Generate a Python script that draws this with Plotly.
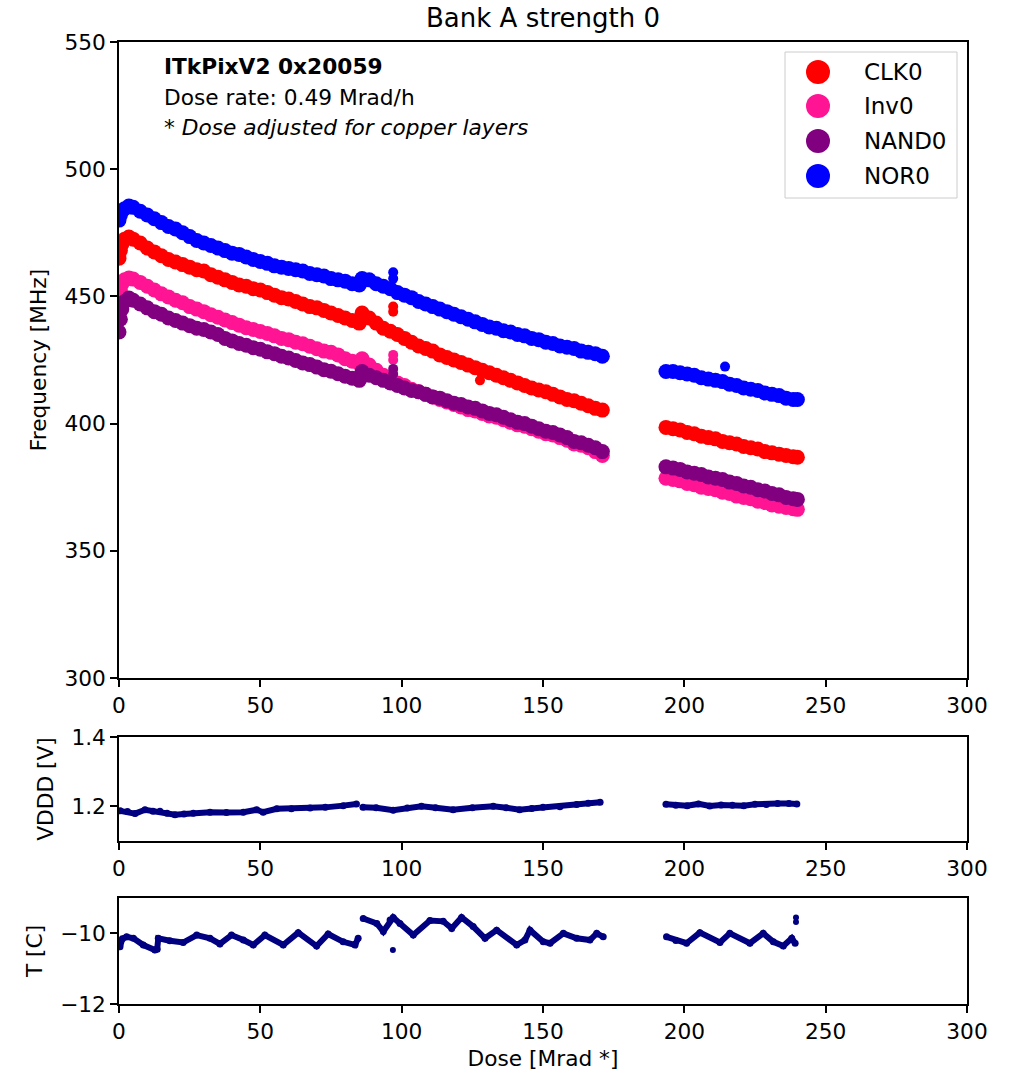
import plotly.graph_objects as go

# ---------------------------------------------------------------------------
# Ring-oscillator frequencies vs. accumulated dose (three irradiation periods)
# ---------------------------------------------------------------------------
dose_freq = [
    0, 0.5, 1, 2, 3.5, 5, 7.5, 10, 12.5, 15, 17.5, 20, 22.5, 25, 27.5, 30, 32.5, 35, 37.5,
    40, 42.5, 45, 47.5, 50, 52.5, 55, 57.5, 60, 62.5, 65, 67.5, 70, 72.5, 75, 77.5, 80, 82.5, 85,
    86, 88.5, 91, 93.5, 96, 98.5, 101, 103.5, 106, 108.5, 111, 113.5, 116, 118.5, 121, 123.5,
    126, 128.5, 131, 133.5, 136, 138.5, 141, 143.5, 146, 148.5, 151, 153.5, 156, 158.5, 161,
    163.5, 166, 168.5, 171,
    193.5, 196, 198.5, 201, 203.5, 206, 208.5, 211, 213.5, 216, 218.5, 221, 223.5, 226, 228.5,
    231, 233.5, 236, 238.5, 240,
]

freq_clk0 = [
    465, 468, 470.5, 472.5, 473.3, 472.5, 471, 469, 467.5, 466, 464.5, 463.5, 462.5, 461.5,
    460.5, 460, 458.5, 457.5, 456.5, 455.5, 454.5, 454, 453, 452.5, 451.5, 450.5, 449.5, 449,
    448, 447, 446, 445.5, 444.5, 443.5, 442.5, 441.5, 440.5, 439.5,
    443.5, 441.5, 439.5, 437.5, 436.3, 435, 433.5, 432, 430.5, 429.5, 428.5, 427, 426, 425,
    424, 423, 422, 421, 420, 419, 418, 417, 416, 415, 414, 413.2, 412.5, 411.5, 410.5, 409.5,
    409, 408, 407, 406, 405.3,
    398.5, 398, 397.5, 396.5, 396, 395, 394.5, 394, 393, 392.5, 392, 391, 390.5, 390, 389,
    388.5, 388, 387.5, 387, 386.8,
]

freq_inv0 = [
    450, 452.5, 455, 456.5, 457.2, 456.8, 455.5, 454, 452.5, 451, 449.8, 448.5, 447.5, 446,
    445, 444, 442.8, 441.8, 440.7, 439.7, 438.7, 437.7, 437, 436.2, 435.4, 434.5, 433.5, 433,
    432, 431.4, 430.4, 429.4, 428.5, 428, 427, 425.5, 424.5, 423.5,
    425.5, 423, 421, 419, 417.5, 416, 415, 413.5, 412.5, 411.5, 410.5, 409.5, 408.5, 407.5,
    406.5, 405.5, 405, 404, 403, 402.5, 401.5, 400.5, 399.5, 399, 398, 397, 396, 395.5, 394.5,
    393.5, 392, 391.5, 390.5, 389, 387.5,
    378.5, 378, 377.5, 376.5, 376, 375, 374.5, 374, 373, 372.5, 371.5, 371, 370.5, 369.5, 369,
    368, 367.5, 367, 366.5, 366.3,
]

freq_nand0 = [
    436, 441, 445, 448, 449.4, 448.5, 447, 445.5, 444, 443, 441.5, 440.5, 439.5, 438.5, 437.5,
    437, 436, 435, 433.5, 432.5, 431.5, 430.8, 429.8, 429.2, 428.2, 427.5, 426.5, 425.8, 424.8,
    423.8, 423.2, 422.2, 421.2, 420.6, 419.6, 418.6, 417.8, 417,
    420.5, 419, 418, 417, 416, 415, 414, 413, 412.5, 411.5, 410.5, 410, 409, 408, 407.5, 406.5,
    406, 405, 404, 403.5, 402.5, 401.5, 400.5, 400, 399, 398, 397, 396.5, 395.5, 394.5, 393,
    392.5, 391.5, 390.5, 389,
    383, 382.5, 382, 381, 380.5, 380, 379, 378.5, 378, 377, 376.5, 375.5, 375, 374, 373.5,
    372.5, 372, 371, 370.5, 370.2,
]

freq_nor0 = [
    480, 482, 483.5, 484.5, 485.5, 485, 483.5, 482, 480.5, 479, 477.5, 476.5, 475, 473.5, 472,
    471, 470, 469, 468, 467, 466.5, 465.5, 464.5, 463.7, 463, 462, 461.5, 461, 460.5, 460, 459,
    458.5, 458, 457, 456.5, 456, 455, 454.5,
    457, 456.5, 455, 454, 453, 451.5, 450.5, 449.5, 448, 447, 446, 445, 444, 443, 442, 441,
    440, 439, 438, 437.5, 436.5, 436, 435, 434.5, 433.5, 433, 432, 431.5, 430.5, 430, 429.5,
    428.5, 428, 427.5, 426.5,
    420.5, 420.5, 420, 419.5, 419, 418, 417.5, 417, 416.5, 415.5, 415, 414, 413.5, 413, 412,
    411.5, 411, 410, 409.5, 409.5,
]

# isolated readings away from the main bands
spike_dose_clk0 = [97, 97, 127.7]
spike_clk0 = [444, 446, 417]
spike_dose_inv0 = [97, 97]
spike_inv0 = [425, 427]
spike_dose_nand0 = [97, 97]
spike_nand0 = [419.5, 421.5]
spike_dose_nor0 = [97, 97, 214.4]
spike_nor0 = [457, 459.5, 422.4]

# ---------------------------------------------------------------------------
# Supply voltage and temperature, one list per irradiation period
# ---------------------------------------------------------------------------
vddd_dose_segments = [
    [0.4, 3, 5.7, 9.2, 12, 14.5, 17, 19.8, 23, 26.3, 32.2, 38, 44, 48.7, 51, 55.8, 61, 67.6,
     73, 79.3, 84],
    [86.3, 91, 97, 102, 107, 112, 118.2, 125, 132.4, 137, 141.7, 146, 150, 156, 161.9, 166,
     170.2],
    [193.5, 197, 201, 205, 209, 213, 217, 221, 225, 229, 233, 237, 239.8],
]
vddd_segments = [
    [1.187, 1.185, 1.179, 1.190, 1.186, 1.186, 1.180, 1.176, 1.178, 1.180, 1.183, 1.182,
     1.183, 1.190, 1.183, 1.193, 1.193, 1.195, 1.197, 1.202, 1.207],
    [1.197, 1.196, 1.189, 1.195, 1.200, 1.196, 1.190, 1.196, 1.200, 1.196, 1.190, 1.194,
     1.197, 1.199, 1.205, 1.209, 1.212],
    [1.206, 1.203, 1.202, 1.207, 1.201, 1.204, 1.203, 1.202, 1.206, 1.205, 1.208, 1.208,
     1.207],
]

temp_dose_segments = [
    [0.35, 1.2, 2.7, 5.1, 8.6, 12.7, 13.5, 13.9, 18, 22.7, 27.5, 32.2, 35.7, 39.8, 44, 47.5,
     51.6, 58.1, 63.4, 69.9, 74, 79.3, 83.5, 84.6],
    [86.4, 91.2, 93.5, 95.9, 97, 99.4, 104.1, 110, 114.7, 117.7, 121.2, 125.3, 129.5, 133.6,
     140.7, 143.6, 145.4, 150.1, 152.5, 157.2, 161.9, 166.6, 169, 171.3],
    [193.7, 197, 200.8, 205.5, 212.6, 216.1, 223.2, 227.9, 231.5, 235, 238, 239.2],
]
temp_segments = [
    [-10.38, -10.15, -10.10, -10.14, -10.33, -10.47, -10.45, -10.14, -10.21, -10.26, -10.05,
     -10.14, -10.30, -10.05, -10.19, -10.33, -10.05, -10.33, -9.98, -10.36, -10.02, -10.24,
     -10.33, -10.14],
    [-9.58, -9.72, -9.95, -9.62, -9.55, -9.72, -10.05, -9.64, -9.66, -9.86, -9.55, -9.81,
     -10.14, -9.91, -10.33, -10.19, -9.91, -10.24, -10.28, -10.0, -10.14, -10.19, -10.0,
     -10.10],
    [-10.10, -10.2, -10.28, -9.98, -10.26, -10.0, -10.28, -10.0, -10.24, -10.36, -10.14,
     -10.28],
]
temp_spike_dose = [96.9, 239.5, 239.5]
temp_spike = [-10.47, -9.55, -9.68]

series = [
    ("CLK0", "#ff0000", freq_clk0, spike_dose_clk0, spike_clk0),
    ("Inv0", "#ff1493", freq_inv0, spike_dose_inv0, spike_inv0),
    ("NAND0", "#800080", freq_nand0, spike_dose_nand0, spike_nand0),
    ("NOR0", "#0000ff", freq_nor0, spike_dose_nor0, spike_nor0),
]

NAVY = "#000080"
FONT = "DejaVu Sans"
FS = 21.7        # tick labels, axis titles, text block
FS_TITLE = 26
FS_LEGEND = 23


def join_segments(segments):
    out = []
    for i, seg in enumerate(segments):
        if i:
            out.append(None)
        out.extend(seg)
    return out


fig = go.Figure()

for name, color, values, sp_dose, sp_vals in series:
    fig.add_trace(go.Scatter(
        x=dose_freq + sp_dose, y=values + sp_vals, mode="markers", name=name,
        marker=dict(color=color, opacity=1,
                    size=[15] * len(values) + [10] * len(sp_vals),
                    line=dict(width=0)),
        xaxis="x", yaxis="y", showlegend=False,
    ))

fig.add_trace(go.Scatter(
    x=join_segments(vddd_dose_segments), y=join_segments(vddd_segments),
    mode="lines+markers", line=dict(color=NAVY, width=6),
    marker=dict(color=NAVY, size=7), xaxis="x2", yaxis="y2", showlegend=False,
))

fig.add_trace(go.Scatter(
    x=join_segments(temp_dose_segments), y=join_segments(temp_segments),
    mode="lines+markers", line=dict(color=NAVY, width=6),
    marker=dict(color=NAVY, size=7), xaxis="x3", yaxis="y3", showlegend=False,
))
fig.add_trace(go.Scatter(
    x=temp_spike_dose, y=temp_spike, mode="markers",
    marker=dict(color=NAVY, size=6), xaxis="x3", yaxis="y3", showlegend=False,
))

axis_style = dict(
    showline=True, linecolor="black", linewidth=1.5, mirror=True,
    ticks="outside", ticklen=7, tickwidth=1.5, tickcolor="black",
    showgrid=False, zeroline=False, automargin=False,
    tickfont=dict(family=FONT, size=FS, color="black"),
)
x_common = dict(axis_style, range=[0, 300], tickvals=[0, 50, 100, 150, 200, 250, 300])
title_font = dict(family=FONT, size=FS, color="black")

# plot area spans 119..967 px horizontally and 42..1004 px vertically
W, H = 1015, 1073
L, R, T, B = 119, 48, 42, 69
PH = H - T - B
PW = W - L - R


def ydom(top_px, bottom_px):
    return [(H - B - bottom_px) / PH, (H - B - top_px) / PH]


def px(xp):
    return (xp - L) / PW


def py(yp):
    return (H - B - yp) / PH


fig.update_layout(
    width=W, height=H,
    margin=dict(l=L, r=R, t=T, b=B),
    paper_bgcolor="white", plot_bgcolor="white",
    font=dict(family=FONT, size=FS, color="black"),
    title=dict(text="Bank A strength 0", x=543 / W, xanchor="center",
               y=1 - 18 / H, yanchor="middle",
               font=dict(family=FONT, size=FS_TITLE, color="black")),
    xaxis=dict(x_common, domain=[0, 1], anchor="y"),
    yaxis=dict(axis_style, domain=ydom(42, 678), anchor="x", range=[300, 550],
               tickvals=[300, 350, 400, 450, 500, 550],
               title=dict(text="Frequency [MHz]", font=title_font, standoff=12)),
    xaxis2=dict(x_common, domain=[0, 1], anchor="y2"),
    yaxis2=dict(axis_style, domain=ydom(737, 841), anchor="x2", range=[1.1, 1.4],
                tickvals=[1.2, 1.4], tickformat=".1f",
                title=dict(text="VDDD [V]", font=title_font, standoff=12)),
    xaxis3=dict(x_common, domain=[0, 1], anchor="y3",
                title=dict(text="Dose [Mrad *]", font=title_font, standoff=8)),
    yaxis3=dict(axis_style, domain=ydom(898, 1004), anchor="x3", range=[-12, -9],
                tickvals=[-12, -10],
                title=dict(text="T [C]", font=title_font, standoff=12)),
)

# text block in the upper-left corner of the frequency panel
info_lines = [
    (66, "<b>ITkPixV2 0x20059</b>"),
    (97, "Dose rate: 0.49 Mrad/h"),
    (128, "* <i>Dose adjusted for copper layers</i>"),
]
for ypix, txt in info_lines:
    fig.add_annotation(x=px(162), y=py(ypix), xref="paper", yref="paper",
                       text=txt, showarrow=False, xanchor="left", yanchor="middle",
                       font=dict(family=FONT, size=FS, color="black"))

# legend box with large round keys
fig.add_shape(type="rect", xref="paper", yref="paper",
              x0=px(785), x1=px(957), y0=py(198), y1=py(52),
              line=dict(color="#cccccc", width=1), fillcolor="rgba(255,255,255,0.8)")
legend_rows = [72, 106, 141, 176]
for (name, color, *_), ypix in zip(series, legend_rows):
    fig.add_shape(type="circle", xref="paper", yref="paper",
                  xsizemode="pixel", ysizemode="pixel",
                  xanchor=px(818), yanchor=py(ypix),
                  x0=-12, x1=12, y0=-12, y1=12,
                  fillcolor=color, line=dict(width=0))
    fig.add_annotation(x=px(862), y=py(ypix), xref="paper", yref="paper",
                       text=name, showarrow=False, xanchor="left", yanchor="middle",
                       font=dict(family=FONT, size=FS_LEGEND, color="black"))

fig.write_html("out.html")
